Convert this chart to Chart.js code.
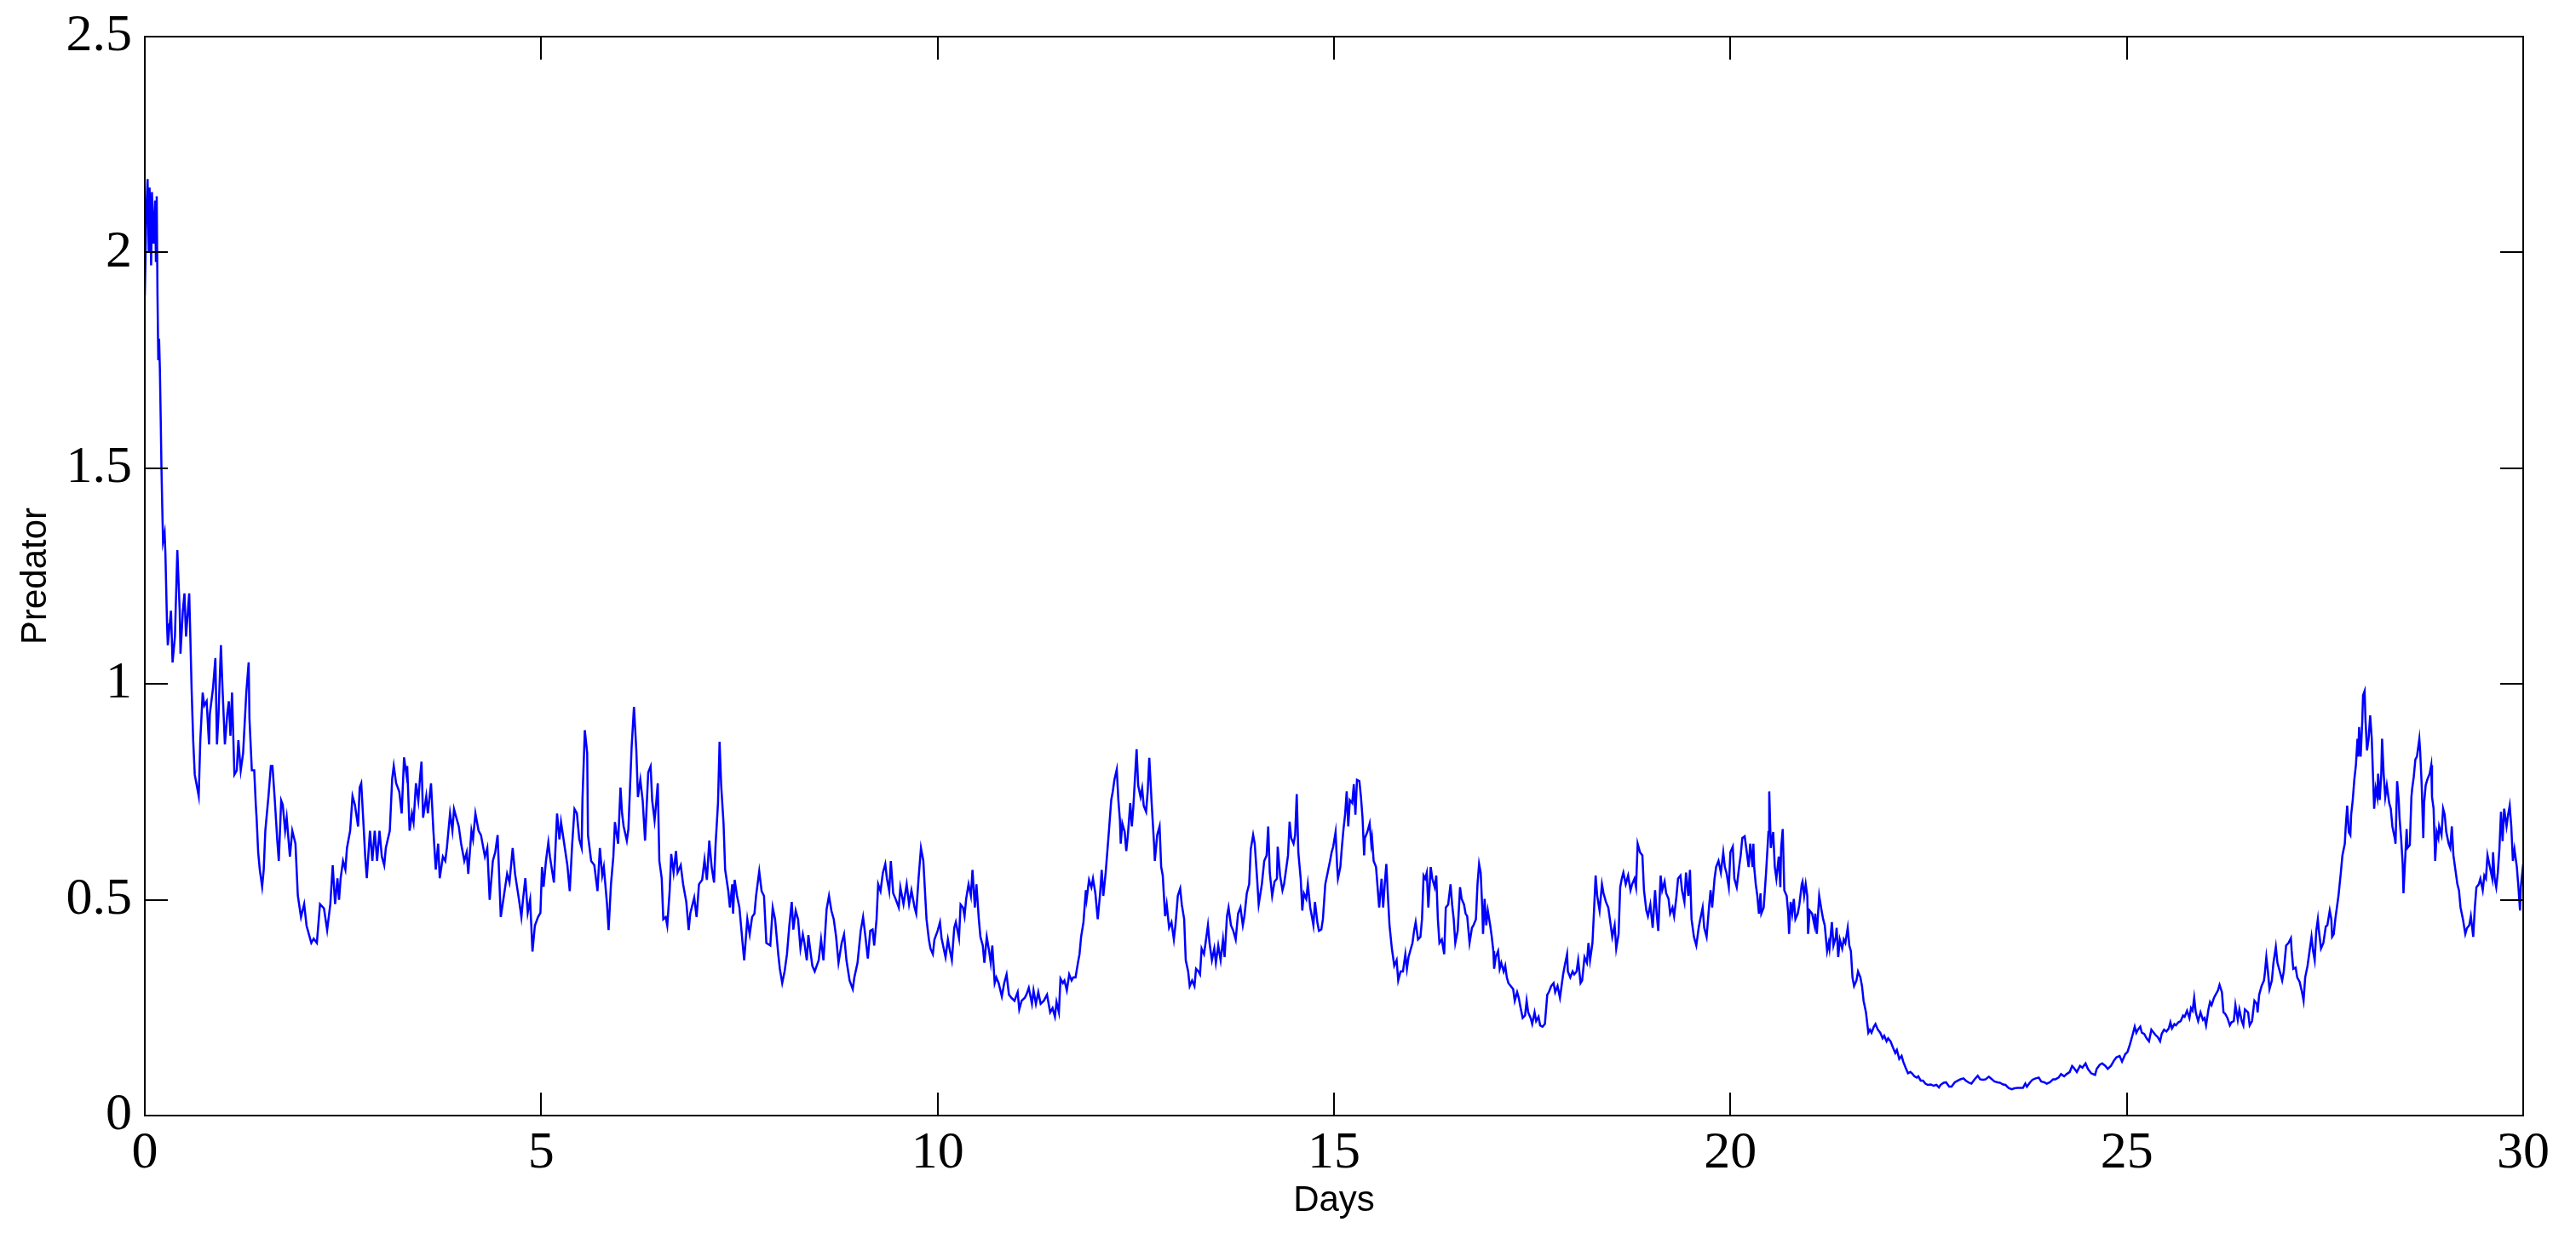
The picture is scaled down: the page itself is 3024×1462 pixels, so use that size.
<!DOCTYPE html>
<html>
<head>
<meta charset="utf-8">
<title>Predator</title>
<script src="https://cdn.jsdelivr.net/npm/chart.js@4/dist/chart.umd.min.js"></script>
<style>
  html, body { margin: 0; padding: 0; background: #fff; }
  canvas { display: block; }
</style>
</head>
<body>
<canvas id="chart" width="3024" height="1462"></canvas>
<script>
// values, time in days
const days = [
  0.00, 0.02, 0.035, 0.05, 0.06, 0.08, 0.09, 0.11, 0.13, 0.14, 0.15, 0.16, 0.17, 0.18, 0.19, 0.20,
  0.21, 0.22, 0.23, 0.25, 0.26, 0.28, 0.29, 0.33, 0.35, 0.38, 0.41, 0.44, 0.45, 0.48, 0.50, 0.52,
  0.56, 0.57, 0.59, 0.61, 0.63, 0.66, 0.68, 0.70, 0.73, 0.75, 0.78, 0.81, 0.82, 0.86, 0.89, 0.91,
  0.93, 0.96, 0.98, 1.01, 1.04, 1.06, 1.08, 1.10, 1.13, 1.16, 1.18, 1.21, 1.24, 1.28, 1.31, 1.32,
  1.35, 1.38, 1.40, 1.41, 1.43, 1.45, 1.48, 1.50, 1.52, 1.56, 1.59, 1.61, 1.64, 1.67, 1.69, 1.72,
  1.74, 1.77, 1.79, 1.83, 1.86, 1.90, 1.93, 1.97, 2.01, 2.04, 2.10, 2.13, 2.17, 2.21, 2.26, 2.30,
  2.34, 2.37, 2.40, 2.43, 2.45, 2.47, 2.50, 2.53, 2.55, 2.59, 2.62, 2.65, 2.69, 2.71, 2.73, 2.76,
  2.78, 2.80, 2.84, 2.87, 2.90, 2.93, 2.96, 2.99, 3.02, 3.04, 3.09, 3.12, 3.14, 3.17, 3.21, 3.24,
  3.27, 3.30, 3.31, 3.34, 3.37, 3.39, 3.42, 3.45, 3.47, 3.49, 3.51, 3.55, 3.57, 3.61, 3.64, 3.67,
  3.70, 3.72, 3.76, 3.79, 3.81, 3.85, 3.88, 3.90, 3.93, 3.96, 3.99, 4.03, 4.06, 4.08, 4.12, 4.14,
  4.17, 4.21, 4.24, 4.29, 4.32, 4.35, 4.39, 4.42, 4.45, 4.49, 4.53, 4.57, 4.60, 4.64, 4.67, 4.72,
  4.75, 4.77, 4.80, 4.83, 4.86, 4.89, 4.92, 4.96, 4.99,
  5.01, 5.03, 5.06, 5.09, 5.11, 5.16, 5.20, 5.23, 5.25, 5.29, 5.33, 5.36, 5.39, 5.42, 5.45, 5.48,
  5.51, 5.52, 5.55, 5.58, 5.59, 5.63, 5.67, 5.71, 5.74, 5.77, 5.79, 5.83, 5.85, 5.88, 5.91, 5.93,
  5.97, 6.00, 6.02, 6.04, 6.08, 6.10, 6.14, 6.17, 6.20, 6.22, 6.25, 6.28, 6.31, 6.35, 6.38, 6.40,
  6.43, 6.45, 6.47, 6.49, 6.52, 6.54, 6.57, 6.59, 6.62, 6.64, 6.67, 6.70, 6.72, 6.76, 6.79, 6.83,
  6.86, 6.88, 6.93, 6.96, 6.99, 7.03, 7.06, 7.09, 7.12, 7.15, 7.18, 7.20, 7.23, 7.25, 7.27, 7.30,
  7.32, 7.36, 7.38, 7.41, 7.42, 7.44, 7.47, 7.50, 7.54, 7.56, 7.60, 7.63, 7.66, 7.69, 7.71, 7.75,
  7.78, 7.81, 7.84, 7.89, 7.92, 7.95, 7.99, 8.01, 8.04, 8.07, 8.10, 8.13, 8.16, 8.18, 8.21, 8.24,
  8.27, 8.30, 8.32, 8.35, 8.37, 8.40, 8.42, 8.45, 8.50, 8.53, 8.56, 8.60, 8.63, 8.66, 8.69, 8.72,
  8.75, 8.79, 8.82, 8.85, 8.89, 8.93, 8.95, 8.99, 9.03, 9.06, 9.09, 9.12, 9.15, 9.18, 9.20, 9.23,
  9.25, 9.28, 9.31, 9.34, 9.36, 9.39, 9.41, 9.44, 9.47, 9.51, 9.53, 9.57, 9.61, 9.64, 9.67, 9.71,
  9.73, 9.76, 9.79, 9.82, 9.86, 9.89, 9.91, 9.94, 9.96, 10.00, 10.03, 10.05,
  10.10, 10.13, 10.15, 10.18, 10.21, 10.23, 10.27, 10.29, 10.32, 10.34, 10.36, 10.39, 10.42, 10.44, 10.47, 10.49,
  10.52, 10.54, 10.57, 10.59, 10.62, 10.65, 10.67, 10.69, 10.72, 10.74, 10.77, 10.81, 10.84, 10.87, 10.90, 10.93,
  10.97, 11.01, 11.03, 11.06, 11.10, 11.12, 11.15, 11.19, 11.21, 11.24, 11.27, 11.30, 11.34, 11.38, 11.42, 11.45,
  11.48, 11.50, 11.53, 11.55, 11.58, 11.60, 11.63, 11.66, 11.69, 11.71, 11.74, 11.77, 11.79, 11.81, 11.84, 11.87,
  11.88, 11.91, 11.94, 11.96, 11.99, 12.02, 12.05, 12.07, 12.09, 12.12, 12.14, 12.16, 12.19, 12.21, 12.23, 12.26,
  12.28, 12.30, 12.31, 12.33, 12.36, 12.38, 12.40, 12.43, 12.45, 12.47, 12.51, 12.53, 12.56, 12.58, 12.60, 12.63,
  12.65, 12.67, 12.70, 12.73, 12.74, 12.77, 12.80, 12.82, 12.84, 12.87, 12.89, 12.92, 12.95, 12.98, 13.00, 13.03,
  13.06, 13.08, 13.11, 13.13, 13.16, 13.18, 13.21, 13.24, 13.26, 13.29, 13.31, 13.33, 13.36, 13.38, 13.41, 13.43,
  13.46, 13.49, 13.51, 13.54, 13.57, 13.60, 13.62, 13.65, 13.67, 13.70, 13.73, 13.76, 13.79, 13.82, 13.85, 13.87,
  13.90, 13.93, 13.95, 13.98, 14.00, 14.03, 14.05, 14.09, 14.12, 14.15, 14.17, 14.19, 14.22, 14.25, 14.28, 14.29,
  14.32, 14.35, 14.37, 14.40, 14.42, 14.44, 14.46, 14.49, 14.51, 14.53, 14.55, 14.58, 14.60, 14.62, 14.65, 14.67,
  14.70, 14.72, 14.74, 14.76, 14.79, 14.81, 14.84, 14.86, 14.89, 14.92, 14.95, 14.97, 14.99, 15.02,
  15.04, 15.05, 15.08, 15.10, 15.12, 15.14, 15.16, 15.18, 15.20, 15.23, 15.25, 15.27, 15.29, 15.32, 15.34, 15.36,
  15.38, 15.39, 15.42, 15.45, 15.47, 15.48, 15.50, 15.53, 15.55, 15.57, 15.60, 15.62, 15.64, 15.66, 15.68, 15.70,
  15.73, 15.74, 15.76, 15.79, 15.81, 15.84, 15.87, 15.90, 15.92, 15.94, 15.97, 15.99, 16.01, 16.03, 16.06, 16.09,
  16.11, 16.13, 16.15, 16.17, 16.19, 16.22, 16.24, 16.27, 16.29, 16.31, 16.33, 16.36, 16.39, 16.41, 16.44, 16.47,
  16.49, 16.51, 16.53, 16.56, 16.59, 16.61, 16.64, 16.66, 16.68, 16.71, 16.74, 16.76, 16.79, 16.81, 16.83, 16.85,
  16.87, 16.88, 16.90, 16.92, 16.94, 16.97, 16.99, 17.01, 17.02, 17.04, 17.07, 17.09, 17.11, 17.14, 17.16, 17.18,
  17.20, 17.23, 17.26, 17.28, 17.31, 17.33, 17.35, 17.38, 17.41, 17.43, 17.45, 17.48, 17.50, 17.53, 17.55, 17.58,
  17.60, 17.63, 17.66, 17.69, 17.71, 17.74, 17.77, 17.79, 17.82, 17.85, 17.87, 17.89, 17.91, 17.94, 17.95, 17.98,
  18.01, 18.03, 18.06, 18.08, 18.11, 18.13, 18.16, 18.19, 18.21, 18.23, 18.26, 18.28, 18.30, 18.32, 18.35, 18.38,
  18.40, 18.43, 18.46, 18.48, 18.51, 18.54, 18.56, 18.59, 18.61, 18.63, 18.65, 18.68, 18.71, 18.74, 18.76, 18.79,
  18.81, 18.83, 18.86, 18.89, 18.91, 18.94, 18.96, 18.99, 19.02, 19.05, 19.07, 19.09, 19.12, 19.14, 19.17, 19.19,
  19.22, 19.24, 19.27, 19.29, 19.32, 19.34, 19.37, 19.39, 19.42, 19.44, 19.47, 19.49, 19.51, 19.54, 19.57, 19.60,
  19.62, 19.65, 19.67, 19.70, 19.73, 19.75, 19.77, 19.80, 19.82, 19.85, 19.88, 19.91, 19.93, 19.95, 19.98, 20.00,
  20.03,
  20.05, 20.08, 20.11, 20.13, 20.15, 20.18, 20.20, 20.23, 20.25, 20.28, 20.29, 20.30, 20.32, 20.34, 20.36, 20.38,
  20.39, 20.42, 20.44, 20.45, 20.48, 20.49, 20.51, 20.54, 20.56, 20.58, 20.61, 20.63, 20.64, 20.66, 20.68, 20.71,
  20.73, 20.74, 20.76, 20.78, 20.80, 20.82, 20.85, 20.87, 20.90, 20.91, 20.93, 20.95, 20.97, 20.98, 21.00, 21.03,
  21.06, 21.07, 21.09, 21.12, 21.15, 21.17, 21.19, 21.22, 21.24, 21.25, 21.28, 21.30, 21.33, 21.34, 21.36, 21.38,
  21.41, 21.43, 21.45, 21.48, 21.50, 21.52, 21.54, 21.56, 21.59, 21.61, 21.64, 21.66, 21.68, 21.71, 21.74, 21.76,
  21.78, 21.81, 21.83, 21.86, 21.89, 21.92, 21.94, 21.97, 21.99, 22.02, 22.05, 22.08, 22.10, 22.13, 22.16, 22.18,
  22.21, 22.24, 22.27, 22.29, 22.32, 22.35, 22.37, 22.40, 22.43, 22.46, 22.49, 22.53, 22.56, 22.60, 22.63, 22.65,
  22.69, 22.72, 22.76, 22.79, 22.83, 22.87, 22.90, 22.94, 22.97, 23.01, 23.04, 23.08, 23.12, 23.15, 23.19, 23.22,
  23.26, 23.30, 23.33, 23.37, 23.40, 23.44, 23.47, 23.51, 23.55, 23.58, 23.62, 23.65, 23.69, 23.72, 23.74, 23.78,
  23.81, 23.85, 23.89, 23.92, 23.96, 23.99, 24.03, 24.07, 24.10, 24.14, 24.17, 24.21, 24.24, 24.28, 24.31, 24.33,
  24.37, 24.41, 24.44, 24.48, 24.51, 24.55, 24.60, 24.62, 24.66, 24.69, 24.73, 24.76, 24.80, 24.84, 24.87, 24.91,
  24.94, 24.98, 25.01,
  25.04, 25.07, 25.10, 25.12, 25.14, 25.17, 25.19, 25.22, 25.25, 25.28, 25.31, 25.34, 25.37, 25.39, 25.42, 25.44,
  25.47, 25.50, 25.53, 25.55, 25.57, 25.60, 25.62, 25.65, 25.68, 25.71, 25.73, 25.76, 25.79, 25.81, 25.83, 25.85,
  25.87, 25.90, 25.93, 25.96, 25.98, 26.00, 26.03, 26.05, 26.07, 26.10, 26.12, 26.15, 26.17, 26.20, 26.22, 26.24,
  26.27, 26.30, 26.32, 26.35, 26.37, 26.40, 26.42, 26.45, 26.47, 26.49, 26.53, 26.55, 26.58, 26.61, 26.64, 26.65,
  26.67, 26.70, 26.73, 26.74, 26.76, 26.78, 26.80, 26.83, 26.85, 26.88, 26.90, 26.93, 26.96, 26.98, 27.01, 27.04,
  27.07, 27.08, 27.10, 27.13, 27.15, 27.18, 27.21, 27.23, 27.25, 27.28, 27.30, 27.33, 27.35, 27.37, 27.39, 27.41,
  27.42, 27.45, 27.48, 27.51, 27.53, 27.56, 27.58, 27.59, 27.61, 27.63, 27.65, 27.67, 27.70, 27.72, 27.75, 27.76,
  27.78, 27.80, 27.82, 27.83, 27.85, 27.87, 27.89, 27.91, 27.92, 27.93, 27.95, 27.97, 27.98, 28.00, 28.01, 28.03,
  28.05, 28.07, 28.09, 28.10, 28.12, 28.14, 28.16, 28.17, 28.19, 28.21, 28.22, 28.24, 28.26, 28.28, 28.31, 28.33,
  28.35, 28.38, 28.39, 28.41, 28.43, 28.44, 28.46, 28.48, 28.49, 28.51, 28.53, 28.54, 28.57, 28.59, 28.60, 28.62,
  28.64, 28.66, 28.69, 28.70, 28.72, 28.74, 28.75, 28.77, 28.79, 28.82, 28.84, 28.85, 28.87, 28.89, 28.91, 28.93,
  28.94, 28.97, 28.99, 29.01, 29.03, 29.06, 29.08, 29.10, 29.12, 29.14, 29.17, 29.19, 29.21, 29.24, 29.27, 29.29,
  29.32, 29.34, 29.37, 29.39, 29.41, 29.44, 29.46, 29.49, 29.51, 29.53, 29.55, 29.58, 29.61, 29.62, 29.64, 29.66,
  29.68, 29.70, 29.72, 29.74, 29.76, 29.79, 29.81, 29.83, 29.85, 29.87, 29.89, 29.92, 29.94, 29.96, 29.97, 30.00
];

const predator = [
  1.90, 2.10, 2.17, 2.00, 2.15, 1.97, 2.14, 2.02, 2.12, 1.98, 2.13, 1.90, 1.75, 1.80, 1.73, 1.62,
  1.50, 1.41, 1.33, 1.35, 1.30, 1.14, 1.09, 1.17, 1.05, 1.11, 1.31, 1.17, 1.07, 1.17, 1.21, 1.11,
  1.21, 1.14, 0.99, 0.87, 0.79, 0.76, 0.74, 0.87, 0.98, 0.95, 0.96, 0.86, 0.93, 0.99, 1.06, 0.86,
  0.93, 1.09, 0.99, 0.86, 0.93, 0.96, 0.88, 0.98, 0.79, 0.80, 0.87, 0.80, 0.84, 0.98, 1.05, 0.92,
  0.80, 0.80, 0.72, 0.69, 0.61, 0.57, 0.53, 0.57, 0.66, 0.74, 0.81, 0.81, 0.73, 0.64, 0.59, 0.73,
  0.72, 0.66, 0.69, 0.60, 0.66, 0.63, 0.51, 0.46, 0.49, 0.44, 0.40, 0.41, 0.40, 0.49, 0.48, 0.43,
  0.49, 0.58, 0.49, 0.55, 0.50, 0.55, 0.59, 0.57, 0.62, 0.66, 0.74, 0.72, 0.67, 0.76, 0.77, 0.67,
  0.60, 0.55, 0.66, 0.59, 0.66, 0.59, 0.66, 0.60, 0.58, 0.62, 0.66, 0.78, 0.81, 0.77, 0.75, 0.70,
  0.83, 0.79, 0.81, 0.66, 0.70, 0.68, 0.77, 0.73, 0.78, 0.82, 0.69, 0.74, 0.70, 0.77, 0.66, 0.57,
  0.63, 0.55, 0.60, 0.59, 0.62, 0.70, 0.66, 0.71, 0.69, 0.67, 0.63, 0.59, 0.61, 0.56, 0.66, 0.64,
  0.70, 0.66, 0.65, 0.60, 0.62, 0.50, 0.59, 0.61, 0.65, 0.46, 0.51, 0.56, 0.54, 0.62, 0.56, 0.50,
  0.46, 0.50, 0.55, 0.47, 0.50, 0.38, 0.44, 0.46, 0.47,
  0.576, 0.53, 0.59, 0.633, 0.60, 0.54, 0.70, 0.64, 0.68, 0.63, 0.58, 0.52, 0.627, 0.71, 0.70, 0.64,
  0.62, 0.73, 0.893, 0.84, 0.65, 0.59, 0.58, 0.52, 0.62, 0.556, 0.576, 0.49, 0.43, 0.536, 0.60, 0.68,
  0.63, 0.76, 0.70, 0.67, 0.637, 0.664, 0.852, 0.947, 0.846, 0.738, 0.778, 0.73, 0.637, 0.795, 0.809, 0.73,
  0.684, 0.724, 0.77, 0.59, 0.55, 0.455, 0.46, 0.44, 0.52, 0.606, 0.563, 0.613, 0.563, 0.58, 0.536, 0.495,
  0.43, 0.468, 0.505, 0.46, 0.536, 0.546, 0.593, 0.546, 0.637, 0.576, 0.54, 0.63, 0.724, 0.866, 0.765, 0.677,
  0.57, 0.52, 0.482, 0.536, 0.468, 0.546, 0.509, 0.482, 0.40, 0.36, 0.455, 0.42, 0.46, 0.468, 0.509, 0.566,
  0.52, 0.509, 0.40, 0.394, 0.482, 0.455, 0.374, 0.34, 0.307, 0.334, 0.374, 0.441, 0.495, 0.431, 0.475, 0.455,
  0.387, 0.42, 0.40, 0.36, 0.418, 0.374, 0.347, 0.334, 0.36, 0.408, 0.36, 0.478, 0.509, 0.475, 0.455, 0.414,
  0.354, 0.40, 0.42, 0.36, 0.313, 0.293, 0.32, 0.354, 0.428, 0.46, 0.414, 0.364, 0.428, 0.431, 0.394, 0.455,
  0.536, 0.52, 0.563, 0.583, 0.55, 0.52, 0.59, 0.515, 0.502, 0.482, 0.529, 0.49, 0.536, 0.49, 0.522, 0.482,
  0.468, 0.55, 0.62, 0.59, 0.455, 0.408, 0.387, 0.374, 0.408, 0.428, 0.448, 0.411,
  0.367, 0.408, 0.387, 0.36, 0.435, 0.448, 0.411, 0.489, 0.482, 0.462, 0.502, 0.536, 0.509, 0.569, 0.482, 0.536,
  0.455, 0.414, 0.394, 0.354, 0.414, 0.381, 0.354, 0.394, 0.307, 0.32, 0.307, 0.276, 0.307, 0.327, 0.28, 0.273,
  0.266, 0.286, 0.246, 0.266, 0.273, 0.28, 0.296, 0.259, 0.29, 0.259, 0.286, 0.259, 0.266, 0.28, 0.239, 0.249,
  0.229, 0.263, 0.239, 0.317, 0.307, 0.313, 0.29, 0.327, 0.313, 0.32, 0.32, 0.354, 0.374, 0.414, 0.448, 0.522,
  0.502, 0.546, 0.529, 0.549, 0.515, 0.455, 0.515, 0.569, 0.509, 0.563, 0.61, 0.657, 0.731, 0.751, 0.778, 0.802,
  0.731, 0.684, 0.63, 0.677, 0.657, 0.613, 0.65, 0.724, 0.67, 0.718, 0.849, 0.765, 0.738, 0.758, 0.718, 0.704,
  0.751, 0.829, 0.724, 0.63, 0.59, 0.65, 0.67, 0.576, 0.556, 0.462, 0.489, 0.435, 0.448, 0.408, 0.441, 0.509,
  0.526, 0.489, 0.455, 0.36, 0.334, 0.30, 0.313, 0.30, 0.34, 0.334, 0.327, 0.387, 0.374, 0.40, 0.441, 0.40,
  0.36, 0.387, 0.354, 0.394, 0.36, 0.408, 0.367, 0.462, 0.482, 0.441, 0.428, 0.408, 0.468, 0.482, 0.441, 0.462,
  0.515, 0.536, 0.617, 0.65, 0.63, 0.549, 0.489, 0.536, 0.59, 0.603, 0.67, 0.563, 0.509, 0.542, 0.549, 0.623,
  0.556, 0.522, 0.536, 0.576, 0.603, 0.681, 0.643, 0.63, 0.65, 0.745, 0.61, 0.549, 0.475, 0.515, 0.502, 0.536,
  0.482, 0.462, 0.441, 0.495, 0.448, 0.428, 0.431, 0.455, 0.536, 0.563, 0.59, 0.61, 0.623, 0.657,
  0.576, 0.549, 0.576, 0.623, 0.664, 0.697, 0.751, 0.67, 0.731, 0.724, 0.768, 0.697, 0.778, 0.775, 0.738, 0.69,
  0.603, 0.643, 0.657, 0.677, 0.63, 0.643, 0.59, 0.576, 0.529, 0.482, 0.549, 0.482, 0.536, 0.583, 0.509, 0.441,
  0.387, 0.374, 0.347, 0.36, 0.313, 0.334, 0.334, 0.374, 0.34, 0.367, 0.387, 0.40, 0.428, 0.448, 0.408, 0.414,
  0.455, 0.556, 0.549, 0.563, 0.482, 0.576, 0.549, 0.529, 0.556, 0.455, 0.40, 0.408, 0.374, 0.482, 0.489, 0.536,
  0.489, 0.455, 0.40, 0.428, 0.529, 0.502, 0.489, 0.468, 0.462, 0.40, 0.435, 0.441, 0.455, 0.536, 0.583, 0.563,
  0.482, 0.421, 0.502, 0.441, 0.475, 0.441, 0.414, 0.381, 0.34, 0.367, 0.381, 0.34, 0.354, 0.334, 0.347, 0.32,
  0.307, 0.30, 0.293, 0.266, 0.286, 0.273, 0.253, 0.226, 0.232, 0.266, 0.239, 0.226, 0.212, 0.239, 0.219, 0.229,
  0.209, 0.206, 0.212, 0.28, 0.286, 0.30, 0.307, 0.286, 0.30, 0.273, 0.30, 0.327, 0.347, 0.374, 0.334, 0.32,
  0.334, 0.327, 0.334, 0.36, 0.307, 0.313, 0.367, 0.354, 0.40, 0.36, 0.40, 0.475, 0.556, 0.509, 0.475, 0.536,
  0.515, 0.495, 0.482, 0.455, 0.414, 0.441, 0.387, 0.421, 0.529, 0.549, 0.563, 0.536, 0.556, 0.522, 0.536, 0.549,
  0.529, 0.63, 0.61, 0.603, 0.522, 0.475, 0.462, 0.489, 0.435, 0.522, 0.468, 0.428, 0.556, 0.522, 0.542, 0.515,
  0.502, 0.468, 0.482, 0.462, 0.509, 0.549, 0.556, 0.522, 0.495, 0.563, 0.509, 0.569, 0.455, 0.414, 0.394, 0.435,
  0.455, 0.482, 0.435, 0.414, 0.482, 0.522, 0.482, 0.549, 0.576, 0.59, 0.563, 0.61, 0.576, 0.563, 0.529, 0.61,
  0.623,
  0.549, 0.529, 0.576, 0.603, 0.643, 0.647, 0.62, 0.576, 0.63, 0.576, 0.63, 0.576, 0.536, 0.509, 0.468, 0.515,
  0.468, 0.482, 0.536, 0.563, 0.657, 0.751, 0.62, 0.657, 0.576, 0.549, 0.60, 0.529, 0.62, 0.664, 0.522, 0.509,
  0.468, 0.421, 0.495, 0.468, 0.502, 0.455, 0.468, 0.489, 0.536, 0.542, 0.509, 0.536, 0.509, 0.421, 0.475, 0.468,
  0.441, 0.468, 0.421, 0.509, 0.475, 0.455, 0.441, 0.381, 0.40, 0.387, 0.448, 0.394, 0.414, 0.435, 0.367, 0.408,
  0.387, 0.408, 0.40, 0.435, 0.394, 0.381, 0.32, 0.30, 0.313, 0.334, 0.32, 0.30, 0.266, 0.239, 0.192, 0.199,
  0.192, 0.206, 0.212, 0.199, 0.192, 0.179, 0.185, 0.172, 0.179, 0.172, 0.158, 0.145, 0.152, 0.131, 0.138, 0.125,
  0.111, 0.098, 0.101, 0.098, 0.091, 0.088, 0.091, 0.081, 0.081, 0.074, 0.071, 0.072, 0.069, 0.071, 0.065, 0.071,
  0.076, 0.077, 0.067, 0.067, 0.077, 0.081, 0.084, 0.086, 0.081, 0.076, 0.074, 0.084, 0.092, 0.084, 0.083, 0.084,
  0.09, 0.084, 0.079, 0.077, 0.076, 0.072, 0.071, 0.064, 0.061, 0.063, 0.064, 0.064, 0.064, 0.074, 0.067, 0.077,
  0.083, 0.086, 0.088, 0.079, 0.077, 0.074, 0.077, 0.084, 0.084, 0.088, 0.096, 0.091, 0.096, 0.101, 0.115, 0.111,
  0.101, 0.115, 0.111, 0.121, 0.108, 0.098, 0.094, 0.108, 0.118, 0.121, 0.115, 0.108, 0.115, 0.128, 0.135, 0.138,
  0.125, 0.142, 0.148,
  0.165, 0.185, 0.206, 0.192, 0.199, 0.206, 0.192, 0.189, 0.179, 0.172, 0.199, 0.192, 0.185, 0.182, 0.172, 0.189,
  0.199, 0.195, 0.202, 0.216, 0.202, 0.212, 0.209, 0.216, 0.219, 0.232, 0.229, 0.243, 0.226, 0.249, 0.243, 0.273,
  0.239, 0.219, 0.239, 0.222, 0.226, 0.209, 0.246, 0.263, 0.256, 0.273, 0.28, 0.29, 0.303, 0.286, 0.239, 0.236,
  0.226, 0.209, 0.216, 0.219, 0.256, 0.222, 0.246, 0.219, 0.209, 0.246, 0.239, 0.209, 0.219, 0.266, 0.259, 0.239,
  0.28, 0.30, 0.313, 0.327, 0.367, 0.334, 0.293, 0.313, 0.354, 0.391, 0.354, 0.334, 0.313, 0.334, 0.394, 0.40,
  0.411, 0.381, 0.34, 0.343, 0.32, 0.31, 0.286, 0.266, 0.32, 0.347, 0.374, 0.414, 0.381, 0.36, 0.428, 0.455,
  0.434, 0.387, 0.40, 0.438, 0.441, 0.475, 0.455, 0.414, 0.42, 0.455, 0.482, 0.509, 0.563, 0.603, 0.63, 0.664,
  0.718, 0.657, 0.65, 0.697, 0.731, 0.778, 0.812, 0.873, 0.832, 0.90, 0.832, 0.913, 0.974, 0.984, 0.92, 0.846,
  0.873, 0.927, 0.873, 0.819, 0.711, 0.758, 0.738, 0.792, 0.731, 0.792, 0.873, 0.792, 0.738, 0.765, 0.724, 0.711,
  0.67, 0.643, 0.63, 0.775, 0.731, 0.691, 0.643, 0.583, 0.515, 0.59, 0.664, 0.62, 0.627, 0.738, 0.758, 0.785,
  0.825, 0.832, 0.873, 0.846, 0.765, 0.643, 0.724, 0.765, 0.778, 0.792, 0.812, 0.738, 0.711, 0.59, 0.657, 0.643,
  0.67, 0.65, 0.711, 0.697, 0.657, 0.63, 0.62, 0.67, 0.603, 0.576, 0.536, 0.522, 0.482, 0.455, 0.421, 0.434,
  0.441, 0.462, 0.414, 0.482, 0.529, 0.536, 0.549, 0.522, 0.556, 0.549, 0.603, 0.576, 0.549, 0.61, 0.549, 0.529,
  0.563, 0.617, 0.704, 0.636, 0.711, 0.67, 0.697, 0.718, 0.67, 0.59, 0.617, 0.576, 0.529, 0.475, 0.529, 0.583
];

const xTicks = [0, 5, 10, 15, 20, 25, 30];
const yTicks = [0, 0.5, 1, 1.5, 2, 2.5];

const TICK_LEN = 27;

// matlab-style box with inward ticks on all four sides
const framePlugin = {
  id: 'frame',
  afterDatasetsDraw(chart) {
    const { ctx, chartArea: a, scales } = chart;
    ctx.save();
    ctx.strokeStyle = '#000';
    ctx.lineWidth = 2;
    ctx.strokeRect(a.left, a.top, a.right - a.left, a.bottom - a.top);
    ctx.beginPath();
    xTicks.forEach(v => {
      const px = Math.round(scales.x.getPixelForValue(v));
      ctx.moveTo(px, a.bottom);
      ctx.lineTo(px, a.bottom - TICK_LEN);
      ctx.moveTo(px, a.top);
      ctx.lineTo(px, a.top + TICK_LEN);
    });
    yTicks.forEach(v => {
      const py = Math.round(scales.y.getPixelForValue(v));
      ctx.moveTo(a.left, py);
      ctx.lineTo(a.left + TICK_LEN, py);
      ctx.moveTo(a.right, py);
      ctx.lineTo(a.right - TICK_LEN, py);
    });
    ctx.stroke();
    ctx.restore();
  }
};

const tickFont = { family: '"Liberation Serif", "Times New Roman", serif', size: 62 };
const titleFont = { family: '"Liberation Sans", Arial, sans-serif', size: 42 };

new Chart(document.getElementById('chart'), {
  type: 'line',
  data: {
    datasets: [{
      label: 'Predator',
      data: days.map((d, i) => ({ x: d, y: predator[i] })),
      borderColor: '#0000ff',
      borderWidth: 2.5,
      pointRadius: 0,
      tension: 0,
      fill: false
    }]
  },
  options: {
    responsive: false,
    animation: false,
    devicePixelRatio: 1,
    layout: { padding: { left: 0, top: 43, right: 62, bottom: 0 } },
    plugins: {
      legend: { display: false },
      tooltip: { enabled: false }
    },
    scales: {
      x: {
        type: 'linear',
        min: 0,
        max: 30,
        afterBuildTicks: s => { s.ticks = xTicks.map(v => ({ value: v })); },
        afterFit: s => { s.height = 152; s.paddingLeft = 0; s.paddingRight = 0; },
        grid: { display: false, drawTicks: false },
        border: { display: false },
        ticks: {
          color: '#000',
          font: tickFont,
          padding: 8,
          maxRotation: 0,
          callback: v => String(v)
        },
        title: {
          display: true,
          text: 'Days',
          color: '#000',
          font: titleFont,
          padding: { top: 0, bottom: 26 }
        }
      },
      y: {
        type: 'linear',
        min: 0,
        max: 2.5,
        afterBuildTicks: s => { s.ticks = yTicks.map(v => ({ value: v })); },
        afterFit: s => { s.width = 170; s.paddingTop = 0; s.paddingBottom = 0; },
        grid: { display: false, drawTicks: false },
        border: { display: false },
        ticks: {
          color: '#000',
          font: tickFont,
          padding: 15,
          callback: v => String(v)
        },
        title: {
          display: true,
          text: 'Predator',
          color: '#000',
          font: titleFont,
          padding: { top: 17, bottom: 0 }
        }
      }
    }
  },
  plugins: [framePlugin]
});
</script>
</body>
</html>
